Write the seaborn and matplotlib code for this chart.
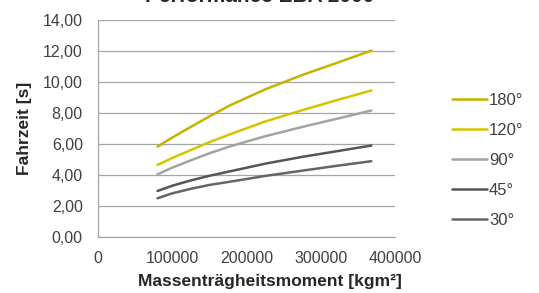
import pandas as pd
import matplotlib.pyplot as plt
import matplotlib.ticker as mticker
import seaborn as sns

# Massenträgheitsmoment [kgm²]
traegheit = [80000, 100000, 124000, 150000, 178000, 225000, 275000, 321000, 368000]

# Fahrzeit [s] je Schwenkwinkel
fahrzeit_180 = [5.83, 6.42, 7.08, 7.78, 8.50, 9.52, 10.45, 11.22, 12.02]
fahrzeit_120 = [4.65, 5.10, 5.59, 6.12, 6.63, 7.45, 8.18, 8.82, 9.45]
fahrzeit_90 = [4.04, 4.48, 4.93, 5.40, 5.85, 6.50, 7.10, 7.62, 8.16]
fahrzeit_45 = [2.97, 3.31, 3.64, 3.95, 4.24, 4.73, 5.17, 5.53, 5.90]
fahrzeit_30 = [2.50, 2.82, 3.10, 3.36, 3.57, 3.94, 4.28, 4.59, 4.89]

winkel = ["180°", "120°", "90°", "45°", "30°"]
farben = ["#c4b400", "#d6c400", "#a3a3a3", "#555555", "#656565"]

rows = []
for w, werte in zip(winkel, [fahrzeit_180, fahrzeit_120, fahrzeit_90, fahrzeit_45, fahrzeit_30]):
    for x, y in zip(traegheit, werte):
        rows.append({"J": x, "t": y, "Winkel": w})
df = pd.DataFrame(rows)

sns.set_style("white")
plt.rcParams['font.family'] = ['Liberation Sans', 'DejaVu Sans']

fig = plt.figure(figsize=(5.39, 2.93), dpi=100)
ax = fig.add_axes([0.182, 0.191, 0.551, 0.741])

sns.lineplot(data=df, x="J", y="t", hue="Winkel", hue_order=winkel,
             palette=farben, linewidth=1.8, ax=ax, legend=False,
             solid_joinstyle="round")

ax.set_xlim(0, 400000)
ax.set_ylim(0, 14)
ax.set_xticks([0, 100000, 200000, 300000, 400000])
ax.set_yticks(range(0, 15, 2))
ax.yaxis.set_major_formatter(mticker.FuncFormatter(lambda v, p: f"{v:.2f}".replace(".", ",")))
ax.xaxis.set_major_formatter(mticker.FuncFormatter(lambda v, p: f"{int(v)}"))
ax.grid(axis="y", color="#a6a6a6", linewidth=0.9)
ax.set_axisbelow(True)
for s in ["top", "right"]:
    ax.spines[s].set_visible(False)
for s in ["left", "bottom"]:
    ax.spines[s].set_color("#a6a6a6")
    ax.spines[s].set_linewidth(0.9)
ax.tick_params(axis="both", which="major", length=4, width=0.9, color="#a6a6a6",
               labelsize=11.5, labelcolor="#404040", direction="out")
ax.tick_params(axis="x", pad=6)
ax.tick_params(axis="y", pad=7)
ax.set_xlabel("Massenträgheitsmoment [kgm²]", fontsize=12.5, fontweight="bold",
              color="#262626")
ax.xaxis.set_label_coords(0.58, -0.17)
ax.set_ylabel("Fahrzeit [s]", fontsize=12.5, fontweight="bold", color="#262626",
              labelpad=8)

handles = [plt.Line2D([], [], color=c, linewidth=1.8) for c in farben]
fig.legend(handles, winkel, loc="upper left", bbox_to_anchor=(0.81, 0.735),
           frameon=False, fontsize=12, labelspacing=0.9, handlelength=2.1,
           handletextpad=0.15, labelcolor="#404040")

# Titel: im Original oben abgeschnitten
fig.text(0.482, 1 - 2 / 293, "Performance EBA 2000", ha="center", va="baseline",
         fontsize=15, fontweight="bold", color="#262626")

fig.savefig("out.png", dpi=100)
